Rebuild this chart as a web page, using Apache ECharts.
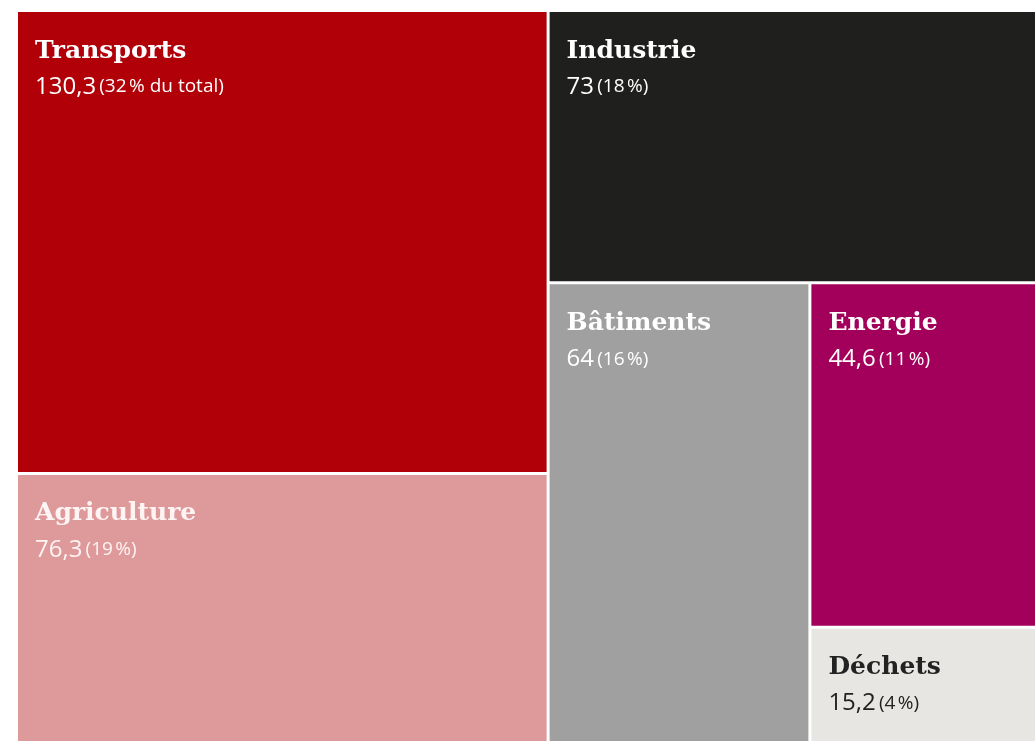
<!DOCTYPE html>
<html>
<head>
<meta charset="utf-8">
<script src="https://cdn.jsdelivr.net/npm/echarts@6/dist/echarts.min.js"></script>
<style>
  html, body { margin: 0; padding: 0; background: #ffffff; }
  #chart { width: 1035px; height: 741px; }
</style>
</head>
<body>
<div id="chart"></div>
<script>
// Émissions par secteur
const sectors = ['Transports', 'Agriculture', 'Industrie', 'Bâtiments', 'Energie', 'Déchets'];
const emissions = [130.3, 76.3, 73, 64, 44.6, 15.2];
const sectorColors = ['#b10008', '#de999b', '#1f1f1d', '#a0a0a0', '#a3005b', '#e8e6e3'];
const textColors = ['#ffffff', '#fff4f4', '#ffffff', '#ffffff', '#ffffff', '#222222'];

const total = emissions.reduce((a, b) => a + b, 0);
const fr = v => String(v).replace('.', ',');

const data = sectors.map((name, i) => {
  const pct = Math.round(emissions[i] / total * 100);
  const pctText = i === 0 ? '(' + pct + '\u202f% du total)' : '(' + pct + '\u202f%)';
  const c = textColors[i];
  return {
    name: name,
    value: emissions[i],
    itemStyle: { color: sectorColors[i] },
    label: {
      formatter: '{t|' + name + '}\n{v|' + fr(emissions[i]) + '}{p|\u2009' + pctText + '}',
      rich: {
        t: { fontFamily: 'DejaVu Serif', fontWeight: 'bold', fontSize: 25, color: c, lineHeight: 40 },
        v: { fontFamily: 'Open Sans', fontSize: 24, color: c, lineHeight: 32 },
        p: { fontFamily: 'Open Sans', fontSize: 19, color: c, lineHeight: 32 }
      }
    }
  };
});

const chart = echarts.init(document.getElementById('chart'));
chart.setOption({
  animation: false,
  series: [{
    type: 'treemap',
    left: 18,
    top: 12,
    width: 1035,
    height: 731,
    squareRatio: 1,
    roam: false,
    nodeClick: false,
    breadcrumb: { show: false },
    itemStyle: { borderWidth: 0, gapWidth: 3, borderColor: '#ffffff' },
    levels: [
      { itemStyle: { borderWidth: 0, gapWidth: 3, borderColor: '#ffffff' } },
      { itemStyle: { borderWidth: 0, gapWidth: 0 } }
    ],
    label: {
      show: true,
      position: 'insideTopLeft',
      padding: [19, 0, 0, 17]
    },
    data: data
  }]
});
</script>
</body>
</html>
